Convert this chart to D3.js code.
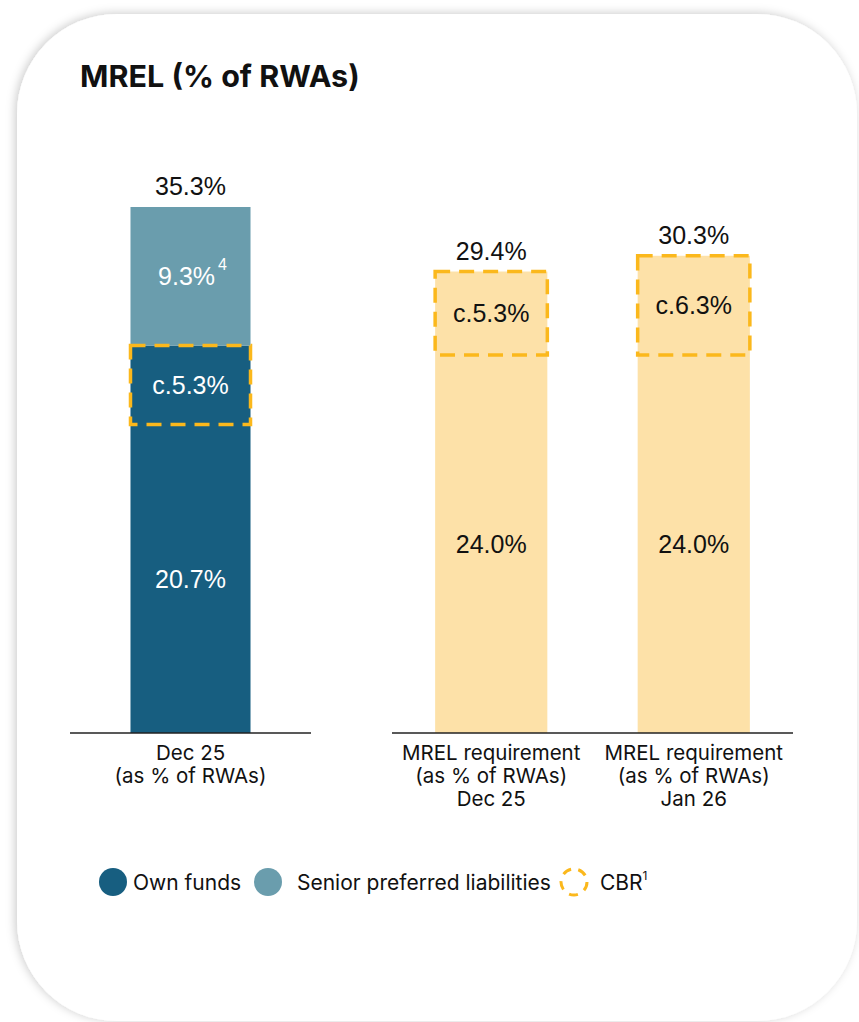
<!DOCTYPE html>
<html>
<head>
<meta charset="utf-8">
<script src="https://cdn.jsdelivr.net/npm/d3@7"></script>
<style>
  html, body { margin: 0; padding: 0; background: #ffffff; }
  svg { display: block; }
</style>
</head>
<body>
<svg id="chart" width="859" height="1022"></svg>
<script>
// ---------------- DATA ----------------
const title = "MREL (% of RWAs)";

// Left panel (actual, Dec 25)
const leftCategories = ["Dec 25"];
const leftCategoryLines = [["Dec 25", "(as % of RWAs)"]];
const ownFundsCore = [20.7];      // own funds excluding CBR portion
const ownFundsCBR = [5.3];        // c.5.3% CBR covered by own funds
const seniorPreferred = [9.3];
const leftTotals = [35.3];

// Right panel (requirements)
const rightCategories = ["Req Dec 25", "Req Jan 26"];
const rightCategoryLines = [
  ["MREL requirement", "(as % of RWAs)", "Dec 25"],
  ["MREL requirement", "(as % of RWAs)", "Jan 26"]
];
const requirement = [24.0, 24.0];
const cbrRequirement = [5.3, 6.3];
const rightTotals = [29.4, 30.3];

const legendItems = ["Own funds", "Senior preferred liabilities", "CBR"];

// ---------------- STYLE ----------------
const C = {
  own: "#175e80",
  senior: "#6a9dad",
  req: "#fde1a8",
  cbr: "#fbb81c",
  text: "#111111"
};
const labelFont = "'Liberation Sans', Arial, sans-serif";
const uiFont = "Inter, 'Noto Sans', sans-serif";

const svg = d3.select("#chart");

// card with shadow
const defs = svg.append("defs");
const f = defs.append("filter").attr("id", "shadow")
  .attr("x", "-10%").attr("y", "-10%").attr("width", "120%").attr("height", "120%");
f.append("feDropShadow").attr("dx", -2).attr("dy", -1).attr("stdDeviation", 5)
  .attr("flood-color", "#000").attr("flood-opacity", 0.2);

svg.append("rect").attr("x", 17).attr("y", 14).attr("width", 840).attr("height", 1007)
  .attr("rx", 100).attr("ry", 100).attr("fill", "#fff").attr("filter", "url(#shadow)");

svg.append("text").attr("x", 80).attr("y", 87)
  .attr("font-family", uiFont).attr("font-weight", 700).attr("font-size", 30.5)
  .attr("fill", C.text).text(title);

const baseline = 733;

// ---------- Left panel ----------
const xL = d3.scaleBand().domain(leftCategories).range([70, 311]).paddingInner(0).paddingOuter(0.504);
const yL = d3.scaleLinear().domain([0, leftTotals[0]]).range([baseline, 207]);

const gL = svg.append("g");
leftCategories.forEach((cat, i) => {
  const x0 = xL(cat), w = xL.bandwidth(), cx = x0 + w / 2;
  const ownTop = ownFundsCore[i] + ownFundsCBR[i];
  gL.append("rect").attr("x", x0).attr("width", w)
    .attr("y", yL(ownTop)).attr("height", yL(0) - yL(ownTop)).attr("fill", C.own);
  const tot = ownTop + seniorPreferred[i];
  gL.append("rect").attr("x", x0).attr("width", w)
    .attr("y", yL(tot)).attr("height", yL(ownTop) - yL(tot)).attr("fill", C.senior);
  gL.append("rect").attr("x", x0).attr("width", w)
    .attr("y", yL(ownTop)).attr("height", yL(ownFundsCore[i]) - yL(ownTop))
    .attr("fill", "none").attr("stroke", C.cbr).attr("stroke-width", 3.5)
    .attr("stroke-dasharray", "15,9");
  const lab = (txt, y, color) => gL.append("text").attr("x", cx).attr("y", y)
    .attr("text-anchor", "middle").attr("dominant-baseline", "central")
    .attr("font-family", labelFont).attr("font-size", 25).attr("fill", color).text(txt);
  lab(d3.format(".1f")(ownFundsCore[i]) + "%", (yL(0) + yL(ownFundsCore[i])) / 2, "#fff");
  lab("c." + d3.format(".1f")(ownFundsCBR[i]) + "%", (yL(ownFundsCore[i]) + yL(ownTop)) / 2, "#fff");
  const st = gL.append("text").attr("x", cx + 2).attr("y", (yL(ownTop) + yL(tot)) / 2)
    .attr("text-anchor", "middle").attr("dominant-baseline", "central")
    .attr("font-family", labelFont).attr("font-size", 25).attr("fill", "#fff");
  st.append("tspan").text(d3.format(".1f")(seniorPreferred[i]) + "%");
  st.append("tspan").attr("font-size", 16).attr("dx", 3).attr("dy", -12).text("4");
  lab(d3.format(".1f")(leftTotals[i]) + "%", yL(tot) - 21, C.text);
});
gL.append("line").attr("x1", 70).attr("x2", 311).attr("y1", baseline).attr("y2", baseline)
  .attr("stroke", "#222").attr("stroke-width", 1.6);
leftCategories.forEach((cat, i) => {
  const cx = xL(cat) + xL.bandwidth() / 2;
  const t = gL.append("text").attr("x", cx).attr("y", 760)
    .attr("text-anchor", "middle").attr("font-family", uiFont).attr("font-size", 20.5).attr("fill", C.text);
  leftCategoryLines[i].forEach((l, j) => t.append("tspan").attr("x", cx)
    .attr("dy", j === 0 ? 0 : 23).text(l));
});

// ---------- Right panel ----------
const xR = d3.scaleBand().domain(rightCategories).range([392, 793]).paddingInner(0.446).paddingOuter(0.213);
const yR = d3.scaleLinear().domain([0, 30]).range([baseline, baseline - 30 * 15.75]);

const gR = svg.append("g");
rightCategories.forEach((cat, i) => {
  const x0 = xR(cat), w = xR.bandwidth(), cx = x0 + w / 2;
  const top = requirement[i] + cbrRequirement[i];
  gR.append("rect").attr("x", x0).attr("width", w)
    .attr("y", yR(top)).attr("height", yR(0) - yR(top)).attr("fill", C.req);
  gR.append("rect").attr("x", x0).attr("width", w)
    .attr("y", yR(top)).attr("height", yR(requirement[i]) - yR(top))
    .attr("fill", "none").attr("stroke", C.cbr).attr("stroke-width", 3.5)
    .attr("stroke-dasharray", "15,9");
  const lab = (txt, y) => gR.append("text").attr("x", cx).attr("y", y)
    .attr("text-anchor", "middle").attr("dominant-baseline", "central")
    .attr("font-family", labelFont).attr("font-size", 25).attr("fill", C.text).text(txt);
  lab(d3.format(".1f")(requirement[i]) + "%", (yR(0) + yR(requirement[i])) / 2);
  lab("c." + d3.format(".1f")(cbrRequirement[i]) + "%", (yR(requirement[i]) + yR(top)) / 2);
  lab(d3.format(".1f")(rightTotals[i]) + "%", yR(top) - 21);
});
gR.append("line").attr("x1", 392).attr("x2", 793).attr("y1", baseline).attr("y2", baseline)
  .attr("stroke", "#222").attr("stroke-width", 1.6);
rightCategories.forEach((cat, i) => {
  const cx = xR(cat) + xR.bandwidth() / 2;
  const t = gR.append("text").attr("x", cx).attr("y", 760)
    .attr("text-anchor", "middle").attr("font-family", uiFont).attr("font-size", 20.5).attr("fill", C.text);
  rightCategoryLines[i].forEach((l, j) => t.append("tspan").attr("x", cx)
    .attr("dy", j === 0 ? 0 : 23).text(l));
});

// ---------- Legend ----------
const lg = svg.append("g").attr("font-family", uiFont).attr("font-size", 21).attr("fill", C.text);
const ly = 882;
lg.append("circle").attr("cx", 113).attr("cy", ly).attr("r", 14).attr("fill", C.own);
lg.append("text").attr("x", 133).attr("y", ly).attr("dominant-baseline", "central").text(legendItems[0]);
lg.append("circle").attr("cx", 268).attr("cy", ly).attr("r", 14).attr("fill", C.senior);
lg.append("text").attr("x", 297).attr("y", ly).attr("dominant-baseline", "central").text(legendItems[1]);
lg.append("circle").attr("cx", 574).attr("cy", ly).attr("r", 13).attr("fill", "none")
  .attr("stroke", C.cbr).attr("stroke-width", 3).attr("stroke-dasharray", "9,7.3");
const cbrT = lg.append("text").attr("x", 600).attr("y", ly).attr("dominant-baseline", "central");
cbrT.append("tspan").text(legendItems[2]);
cbrT.append("tspan").attr("font-size", 12).attr("dy", -7).text("1");
</script>
</body>
</html>
